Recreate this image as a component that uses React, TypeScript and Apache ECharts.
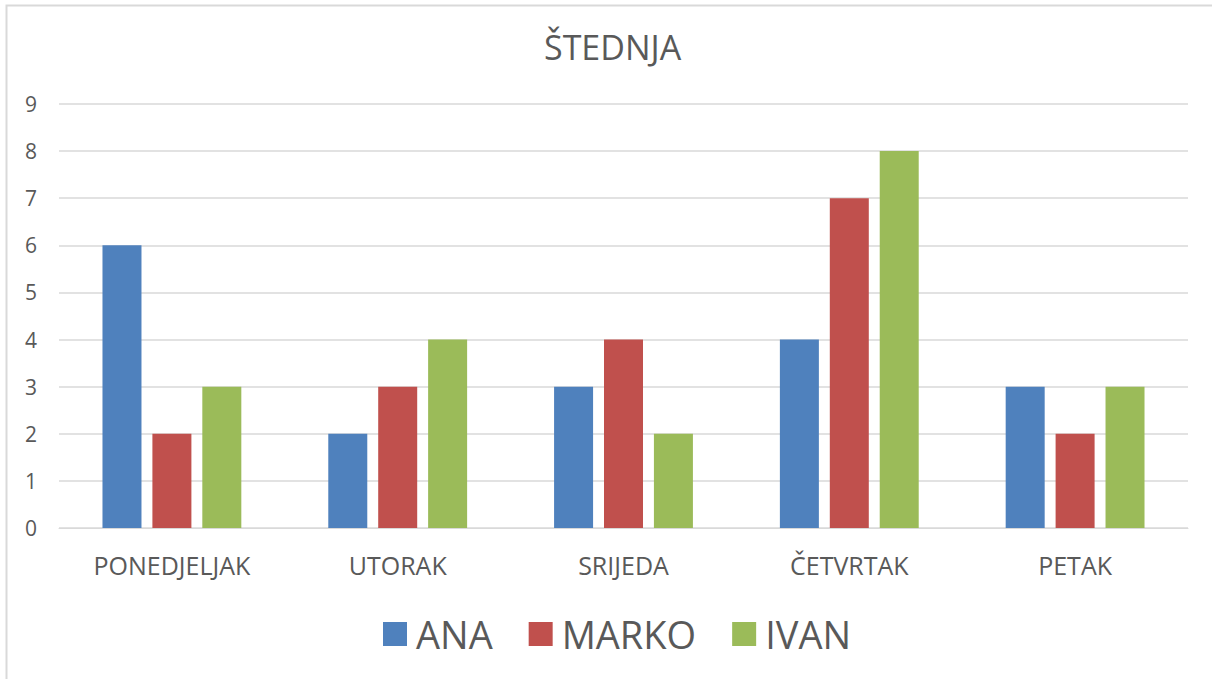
import React, { useEffect, useRef } from "react";
import * as echarts from "echarts";

const categories = ["PONEDJELJAK", "UTORAK", "SRIJEDA", "ČETVRTAK", "PETAK"];
const ana = [6, 2, 3, 4, 3];
const marko = [2, 3, 4, 7, 2];
const ivan = [3, 4, 2, 8, 3];
const seriesNames = ["ANA", "MARKO", "IVAN"];
const colors = ["#4F81BD", "#C0504D", "#9BBB59"];
const titleText = "ŠTEDNJA";

const FONT = "'Open Sans', sans-serif";
const TXT = "#595959";

export default function App() {
  const ref = useRef<HTMLDivElement>(null);
  useEffect(() => {
    if (!ref.current) return;
    const chart = echarts.init(ref.current, null, { renderer: "svg" });
    const data = [ana, marko, ivan];
    chart.setOption({
      animation: false,
      backgroundColor: "#ffffff",
      textStyle: { fontFamily: FONT, color: TXT },
      title: {
        text: titleText,
        left: 539,
        top: 25,
        textStyle: { fontFamily: FONT, fontSize: 34, fontWeight: "normal", color: TXT },
      },
      graphic: [
        {
          type: "polyline",
          shape: { points: [[6.5, 700], [6.5, 5.5], [1220, 5.5]] },
          style: { stroke: "#D9D9D9", lineWidth: 2, fill: "none" },
          silent: true,
        },
      ],
      legend: {
        bottom: 21,
        left: 378,
        itemWidth: 24,
        itemHeight: 24,
        itemGap: 36,
        icon: "rect",
        textStyle: { fontFamily: FONT, fontSize: 38, color: TXT, padding: [0, 0, 0, 4] },
        data: seriesNames,
      },
      grid: { left: 59, right: 24, top: 104, bottom: 151, containLabel: false },
      xAxis: {
        type: "category",
        data: categories,
        axisLine: { show: true, lineStyle: { color: "#D9D9D9", width: 1 } },
        axisTick: { show: false },
        axisLabel: { fontFamily: FONT, fontSize: 25, color: TXT, margin: 24 },
      },
      yAxis: {
        type: "value",
        min: 0,
        max: 9,
        interval: 1,
        axisLine: { show: false },
        axisTick: { show: false },
        splitLine: { lineStyle: { color: "#D9D9D9", width: 1.5 } },
        axisLabel: { fontFamily: FONT, fontSize: 21, color: TXT, margin: 22 },
      },
      series: seriesNames.map((n, i) => ({
        name: n,
        type: "bar",
        data: data[i],
        barWidth: 39,
        barGap: "28%",
        itemStyle: { color: colors[i] },
      })),
    });
    return () => chart.dispose();
  }, []);
  return <div ref={ref} style={{ width: 1212, height: 679, position: "absolute", left: 0, top: 0 }} />;
}
